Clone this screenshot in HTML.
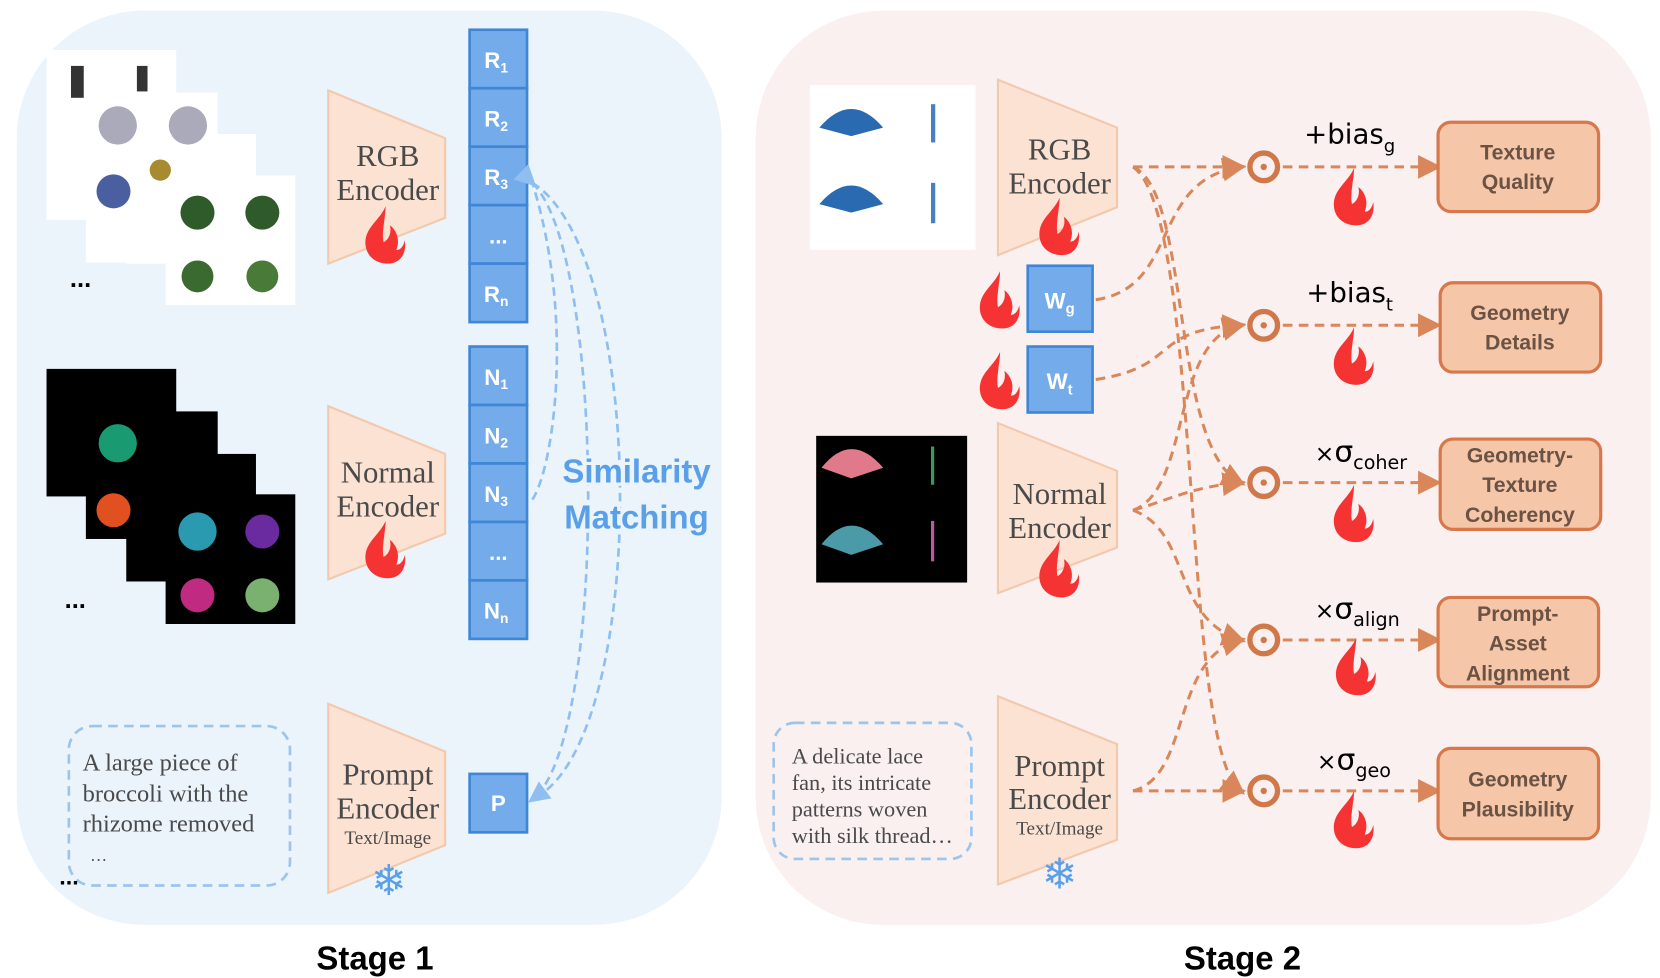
<!DOCTYPE html>
<html><head><meta charset="utf-8"><style>
html,body{margin:0;padding:0;background:#fff}
svg{display:block}
.serif{font-family:"Liberation Serif",serif;fill:#4a4a4a}
.sans{font-family:"Liberation Sans",sans-serif}
.bl{font-family:"Liberation Sans",sans-serif;fill:#fff;font-size:21px;font-weight:bold}
</style></head><body>
<svg width="1660" height="978" viewBox="0 0 1560 920" xmlns="http://www.w3.org/2000/svg">
<defs>
<g id="fire"><path d="M0,-28 C-6,-14 -20,-8 -19,8 C-18,20 -8,26 2,26 C14,26 20,16 18,4 C17,10 13,14 10,13 C14,4 10,-6 4,-10 C6,-2 2,4 -2,6 C-4,-4 0,-18 0,-28 Z" fill="#f53333"/></g>
<marker id="ao" markerWidth="8" markerHeight="8" refX="6" refY="4" orient="auto"><path d="M0,0 L8,4 L0,8 Z" fill="#d9875a"/></marker>
<marker id="ab" markerWidth="8" markerHeight="8" refX="6" refY="4" orient="auto"><path d="M0,0 L8,4 L0,8 Z" fill="#8fbff0"/></marker>
</defs>
<rect x="15" y="10" width="663" height="860" rx="120" fill="#ebf3fb"/>
<rect x="710" y="10" width="842" height="860" rx="120" fill="#f9f0ef"/>

<rect x="43" y="47" width="122" height="160" fill="#fff"/>
<rect x="80" y="87" width="124" height="160" fill="#fff"/>
<rect x="118" y="126" width="122" height="122" fill="#fff"/>
<rect x="155" y="165" width="122" height="122" fill="#fff"/>
<rect x="66" y="62" width="12" height="30" fill="#333"/><rect x="128" y="62" width="10" height="24" fill="#333"/>
<circle cx="110" cy="118" r="18" fill="#aab"/><circle cx="176" cy="118" r="18" fill="#aab"/>
<circle cx="106" cy="180" r="16" fill="#4a5fa0"/><circle cx="150" cy="160" r="10" fill="#a88a30"/>
<circle cx="185" cy="200" r="16" fill="#2f5a2a"/><circle cx="246" cy="200" r="16" fill="#2f5a2a"/>
<circle cx="185" cy="260" r="15" fill="#3a6a30"/><circle cx="246" cy="260" r="15" fill="#4a7a38"/>
<text x="65" y="270" class="sans" font-size="24" font-weight="bold" fill="#000">...</text>
<rect x="43" y="347" width="122" height="120" fill="#000"/>
<rect x="80" y="387" width="124" height="120" fill="#000"/>
<rect x="118" y="427" width="122" height="120" fill="#000"/>
<rect x="155" y="465" width="122" height="122" fill="#000"/>
<circle cx="110" cy="417" r="18" fill="#1a9a70"/><circle cx="106" cy="480" r="16" fill="#e05020"/>
<circle cx="185" cy="500" r="18" fill="#2a9ab0"/><circle cx="246" cy="500" r="16" fill="#6a2aa0"/>
<circle cx="185" cy="560" r="16" fill="#c02a80"/><circle cx="246" cy="560" r="16" fill="#7ab070"/>
<text x="60" y="572" class="sans" font-size="24" font-weight="bold" fill="#000">...</text>

<rect x="64" y="683" width="208" height="150" rx="22" fill="none" stroke="#9cc5ee" stroke-width="2.5" stroke-dasharray="9,6"/>
<text class="serif" font-size="23"><tspan x="77" y="725">A large piece of</tspan><tspan x="77" y="754">broccoli with the</tspan><tspan x="77" y="782">rhizome removed</tspan><tspan x="84" y="810" font-size="16">…</tspan></text>
<text x="55" y="832" class="sans" font-size="22" font-weight="bold" fill="#000">...</text>

<g fill="#fbe2d3" stroke="#f3c9ae" stroke-width="2">
<polygon points="308,85 418,130 418,205 308,248"/>
<polygon points="308,382 418,427 418,502 308,545"/>
<polygon points="308,662 418,707 418,795 308,840"/>
</g>
<g class="serif" font-size="29" text-anchor="middle">
<text x="364" y="156">RGB</text><text x="364" y="188">Encoder</text>
<text x="364" y="454">Normal</text><text x="364" y="486">Encoder</text>
<text x="364" y="738">Prompt</text><text x="364" y="770">Encoder</text>
<text x="364" y="794" font-size="18">Text/Image</text>
</g>
<use href="#fire" x="362" y="222"/><use href="#fire" x="362" y="518"/>
<text x="365" y="842" text-anchor="middle" font-size="40" fill="#5aa0e8" class="sans">❄</text>

<g fill="#74aceb" stroke="#3f86d6" stroke-width="2.5">
<rect x="441" y="28" width="54" height="55"/><rect x="441" y="83" width="54" height="55"/><rect x="441" y="138" width="54" height="55"/><rect x="441" y="193" width="54" height="55"/><rect x="441" y="248" width="54" height="55"/>
<rect x="441" y="326" width="54" height="55"/><rect x="441" y="381" width="54" height="55"/><rect x="441" y="436" width="54" height="55"/><rect x="441" y="491" width="54" height="55"/><rect x="441" y="546" width="54" height="55"/>
<rect x="441" y="728" width="54" height="55"/>
</g>
<g class="bl" text-anchor="middle">
<text x="466" y="64">R<tspan font-size="13" dy="4">1</tspan></text>
<text x="466" y="119">R<tspan font-size="13" dy="4">2</tspan></text>
<text x="466" y="174">R<tspan font-size="13" dy="4">3</tspan></text>
<text x="468" y="229">...</text>
<text x="466" y="284">R<tspan font-size="13" dy="4">n</tspan></text>
<text x="466" y="362">N<tspan font-size="13" dy="4">1</tspan></text>
<text x="466" y="417">N<tspan font-size="13" dy="4">2</tspan></text>
<text x="466" y="472">N<tspan font-size="13" dy="4">3</tspan></text>
<text x="468" y="527">...</text>
<text x="466" y="582">N<tspan font-size="13" dy="4">n</tspan></text>
<text x="468" y="763">P</text>
</g>
<g fill="none" stroke="#8fbff0" stroke-width="2.5" stroke-dasharray="8,5">
<path d="M500,172 C570,240 570,700 500,752" marker-end="url(#ab)" marker-start="url(#ab)"/>
<path d="M500,172 C610,240 610,700 500,752"/>
<path d="M500,470 C520,440 540,300 500,172"/>
</g>
<text x="598" y="454" text-anchor="middle" class="sans" font-size="31" font-weight="bold" fill="#5aa0e8" style="paint-order:stroke" stroke="#ebf3fb" stroke-width="6">Similarity</text>
<text x="598" y="497" text-anchor="middle" class="sans" font-size="31" font-weight="bold" fill="#5aa0e8" style="paint-order:stroke" stroke="#ebf3fb" stroke-width="6">Matching</text>

<rect x="761" y="80" width="156" height="155" fill="#fff"/>
<path d="M770,120 Q800,85 830,120 L800,128 Z" fill="#2a6ab0"/><rect x="875" y="98" width="4" height="36" fill="#4a80c0"/>
<path d="M770,192 Q800,157 830,192 L800,200 Z" fill="#2a6ab0"/><rect x="875" y="172" width="4" height="38" fill="#4a80c0"/>
<rect x="767" y="410" width="142" height="138" fill="#000"/>
<path d="M772,440 Q800,405 830,440 L800,450 Z" fill="#e07a8a"/><rect x="875" y="420" width="3" height="36" fill="#3a9a60"/>
<path d="M772,512 Q800,477 830,512 L800,522 Z" fill="#4a9aa8"/><rect x="875" y="490" width="3" height="38" fill="#c05aa0"/>
<rect x="727" y="680" width="186" height="128" rx="20" fill="none" stroke="#9cc5ee" stroke-width="2.5" stroke-dasharray="9,6"/>
<text class="serif" font-size="21"><tspan x="744" y="718">A delicate lace</tspan><tspan x="744" y="743">fan, its intricate</tspan><tspan x="744" y="768">patterns woven</tspan><tspan x="744" y="793">with silk thread…</tspan></text>

<g fill="#fbe2d3" stroke="#f3c9ae" stroke-width="2">
<polygon points="938,75 1050,120 1050,195 938,240"/>
<polygon points="938,398 1050,443 1050,515 938,558"/>
<polygon points="938,655 1050,700 1050,790 938,832"/>
</g>
<g class="serif" font-size="29" text-anchor="middle">
<text x="996" y="150">RGB</text><text x="996" y="182">Encoder</text>
<text x="996" y="474">Normal</text><text x="996" y="506">Encoder</text>
<text x="996" y="730">Prompt</text><text x="996" y="761">Encoder</text>
<text x="996" y="785" font-size="18">Text/Image</text>
</g>
<use href="#fire" x="996" y="214"/><use href="#fire" x="996" y="536"/>
<text x="996" y="836" text-anchor="middle" font-size="40" fill="#5aa0e8" class="sans">❄</text>

<rect x="966" y="250" width="61" height="62" fill="#74aceb" stroke="#3f86d6" stroke-width="2.5"/>
<rect x="966" y="326" width="61" height="62" fill="#74aceb" stroke="#3f86d6" stroke-width="2.5"/>
<text x="996" y="290" class="bl" text-anchor="middle" font-size="23">W<tspan font-size="14" dy="5">g</tspan></text>
<text x="996" y="366" class="bl" text-anchor="middle" font-size="23">W<tspan font-size="14" dy="5">t</tspan></text>
<use href="#fire" x="940" y="283"/><use href="#fire" x="940" y="359"/>

<g fill="none" stroke="#d9875a" stroke-width="2.8" stroke-dasharray="9,6">
<path d="M1065,157 L1166,157" marker-end="url(#ao)"/>
<path d="M1030,282 C1110,270 1080,170 1166,157" marker-end="url(#ao)"/>
<path d="M1030,357 C1110,345 1080,310 1166,306" marker-end="url(#ao)"/>
<path d="M1065,157 C1120,180 1100,420 1166,454" marker-end="url(#ao)"/>
<path d="M1065,157 C1130,200 1110,700 1166,744" marker-end="url(#ao)"/>
<path d="M1065,480 C1120,460 1100,320 1166,306" marker-end="url(#ao)"/>
<path d="M1065,480 C1100,470 1120,458 1166,454" marker-end="url(#ao)"/>
<path d="M1065,480 C1120,500 1100,580 1166,602" marker-end="url(#ao)"/>
<path d="M1065,744 L1166,744" marker-end="url(#ao)"/>
<path d="M1065,744 C1120,730 1100,620 1166,602" marker-end="url(#ao)"/>
<path d="M1206,157 L1350,157" marker-end="url(#ao)"/>
<path d="M1206,306 L1350,306" marker-end="url(#ao)"/>
<path d="M1206,454 L1350,454" marker-end="url(#ao)"/>
<path d="M1206,602 L1350,602" marker-end="url(#ao)"/>
<path d="M1206,744 L1350,744" marker-end="url(#ao)"/>
</g>
<g fill="none" stroke="#d0784a" stroke-width="5">
<circle cx="1188" cy="157" r="13"/><circle cx="1188" cy="306" r="13"/><circle cx="1188" cy="454" r="13"/><circle cx="1188" cy="602" r="13"/><circle cx="1188" cy="744" r="13"/>
</g>
<g fill="#d0784a"><circle cx="1188" cy="157" r="3"/><circle cx="1188" cy="306" r="3"/><circle cx="1188" cy="454" r="3"/><circle cx="1188" cy="602" r="3"/><circle cx="1188" cy="744" r="3"/></g>
<g font-family="DejaVu Sans, sans-serif" font-size="26" fill="#000">
<text x="1226" y="135">+bias<tspan font-size="17" dy="8">g</tspan></text>
<text x="1228" y="284">+bias<tspan font-size="17" dy="8">t</tspan></text>
<text x="1236" y="434" font-size="22">×<tspan font-size="28">σ</tspan><tspan font-size="18" dy="7">coher</tspan></text>
<text x="1236" y="582" font-size="22">×<tspan font-size="28">σ</tspan><tspan font-size="18" dy="7">align</tspan></text>
<text x="1238" y="724" font-size="22">×<tspan font-size="28">σ</tspan><tspan font-size="18" dy="7">geo</tspan></text>
</g>
<use href="#fire" x="1273" y="186"/><use href="#fire" x="1273" y="336"/><use href="#fire" x="1273" y="484"/><use href="#fire" x="1275" y="628"/><use href="#fire" x="1273" y="772"/>

<g fill="#f6c6a9" stroke="#d8784a" stroke-width="3">
<rect x="1352" y="115" width="151" height="84" rx="12"/>
<rect x="1354" y="266" width="151" height="84" rx="12"/>
<rect x="1354" y="413" width="151" height="85" rx="12"/>
<rect x="1352" y="562" width="151" height="84" rx="12"/>
<rect x="1352" y="704" width="151" height="85" rx="12"/>
</g>
<g class="sans" font-size="20" font-weight="bold" fill="#6a5244" text-anchor="middle">
<text x="1427" y="150">Texture</text><text x="1427" y="178">Quality</text>
<text x="1429" y="301">Geometry</text><text x="1429" y="329">Details</text>
<text x="1429" y="435">Geometry-</text><text x="1429" y="463">Texture</text><text x="1429" y="491">Coherency</text>
<text x="1427" y="584">Prompt-</text><text x="1427" y="612">Asset</text><text x="1427" y="640">Alignment</text>
<text x="1427" y="740">Geometry</text><text x="1427" y="768">Plausibility</text>
</g>

<text x="352" y="912" text-anchor="middle" class="sans" font-size="31" font-weight="bold" fill="#000">Stage 1</text>
<text x="1168" y="912" text-anchor="middle" class="sans" font-size="31" font-weight="bold" fill="#000">Stage 2</text>
</svg>
</body></html>
